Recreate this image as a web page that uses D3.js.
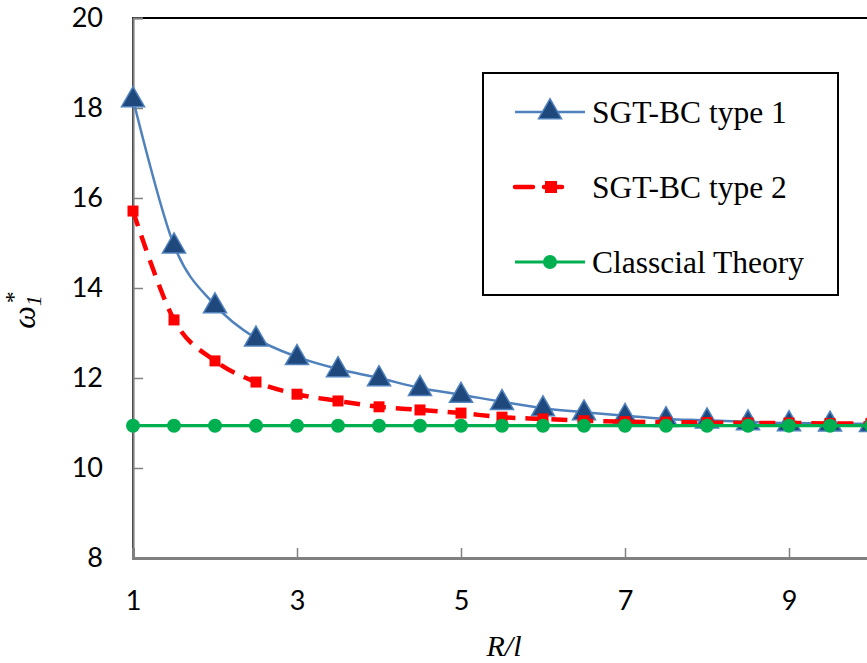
<!DOCTYPE html>
<html>
<head>
<meta charset="utf-8">
<script src="https://cdn.jsdelivr.net/npm/d3@7"></script>
<style>
  html, body { margin: 0; padding: 0; background: #fff; overflow: hidden; }
  svg { display: block; }
</style>
</head>
<body>
<svg id="chart" width="867" height="663"></svg>
<script>
// ---- data ----
const xValues = [1, 1.5, 2, 2.5, 3, 3.5, 4, 4.5, 5, 5.5, 6, 6.5, 7, 7.5, 8, 8.5, 9, 9.5, 10];
const sgtType1 = [18.2, 14.95, 13.62, 12.88, 12.47, 12.2, 12.0, 11.78, 11.63, 11.47, 11.33, 11.24, 11.16, 11.09, 11.06, 11.02, 11.0, 10.99, 10.98];
const sgtType2 = [15.71, 13.29, 12.38, 11.91, 11.64, 11.49, 11.36, 11.29, 11.22, 11.13, 11.09, 11.05, 11.03, 11.02, 11.01, 11.0, 11.0, 10.99, 10.99];
const classical = [10.94, 10.94, 10.94, 10.94, 10.94, 10.94, 10.94, 10.94, 10.94, 10.94, 10.94, 10.94, 10.94, 10.94, 10.94, 10.94, 10.94, 10.94, 10.94];
const xTicks = [1, 3, 5, 7, 9];
const yTicks = [8, 10, 12, 14, 16, 18, 20];
const seriesNames = ["SGT-BC type 1", "SGT-BC type 2", "Classcial Theory"];

(function () {
// ---- layout ----
const svg = d3.select("#chart");
const pLeft = 133, pRight = 871, pTop = 18, pBottom = 558;
const x = d3.scaleLinear().domain([1, 10]).range([pLeft, pRight]);
const y = d3.scaleLinear().domain([8, 20]).range([pBottom, pTop]);

const tickFont = "Lato, 'Open Sans', sans-serif";
const serif = "'Liberation Serif', 'Times New Roman', serif";

// plot border (black)
svg.append("rect").attr("x", pLeft).attr("y", pTop)
  .attr("width", pRight - pLeft).attr("height", pBottom - pTop)
  .attr("fill", "none").attr("stroke", "#000").attr("stroke-width", 2);

// y axis
const yAxis = d3.axisLeft(y).tickValues(yTicks).tickSize(-10).tickPadding(30).tickFormat(d3.format("d"));
const gy = svg.append("g").attr("transform", `translate(${pLeft},0)`).call(yAxis);
gy.select(".domain").attr("stroke", "#808080").attr("stroke-width", 2.2);
gy.selectAll(".tick line").attr("stroke", "#808080").attr("stroke-width", 1.5);
gy.selectAll(".tick text").attr("font-family", tickFont).attr("font-size", 27).attr("fill", "#000");

// x axis
const xAxis = d3.axisBottom(x).tickValues(xTicks).tickSize(-10).tickPadding(33).tickFormat(d3.format("d"));
const gx = svg.append("g").attr("transform", `translate(0,${pBottom})`).call(xAxis);
gx.select(".domain").attr("stroke", "#808080").attr("stroke-width", 3);
gx.selectAll(".tick line").attr("stroke", "#808080").attr("stroke-width", 1.5);
gx.selectAll(".tick text").attr("font-family", tickFont).attr("font-size", 27).attr("fill", "#000");

// axis titles
svg.append("text").attr("x", 504).attr("y", 656).attr("text-anchor", "middle")
  .attr("font-family", serif).attr("font-style", "italic").attr("font-size", 30).text("R/l");

const yt = svg.append("text").attr("transform", "translate(35,310) rotate(-90)")
  .attr("text-anchor", "middle").attr("font-family", serif).attr("font-style", "italic");
yt.append("tspan").attr("font-size", 32).text("ω");
yt.append("tspan").attr("font-size", 22).attr("dy", 6).text("1");
yt.append("tspan").attr("font-size", 24).attr("dx", -8).attr("dy", -20).attr("font-style", "normal").text("*");

// ---- series ----
const line = d3.line().x((d, i) => x(xValues[i])).y(d => y(d)).curve(d3.curveCatmullRom.alpha(0));
const blue = "#4F81BD", navy = "#1F497D", red = "#FF0000", green = "#00B050";
const tri = d3.symbol().type(d3.symbolTriangle).size(230);

const plot = svg.append("g");

// series 1
plot.append("path").datum(sgtType1).attr("d", line).attr("fill", "none")
  .attr("stroke", blue).attr("stroke-width", 2.5);
plot.selectAll(".tri").data(sgtType1).join("path")
  .attr("transform", (d, i) => `translate(${x(xValues[i])},${y(d) + 1})`)
  .attr("d", tri).attr("fill", navy).attr("stroke", blue).attr("stroke-width", 1.5);

// series 2
plot.append("path").datum(sgtType2).attr("d", line).attr("fill", "none")
  .attr("stroke", red).attr("stroke-width", 4.5).attr("stroke-dasharray", "16,10");
plot.selectAll(".sq").data(sgtType2).join("rect")
  .attr("x", (d, i) => x(xValues[i]) - 5.5).attr("y", d => y(d) - 5.5)
  .attr("width", 11).attr("height", 11).attr("fill", red);

// series 3
plot.append("path").datum(classical).attr("d", line).attr("fill", "none")
  .attr("stroke", green).attr("stroke-width", 3.2);
plot.selectAll(".ci").data(classical).join("circle")
  .attr("cx", (d, i) => x(xValues[i])).attr("cy", d => y(d)).attr("r", 7).attr("fill", green);

// ---- legend ----
const lg = svg.append("g");
lg.append("rect").attr("x", 483).attr("y", 73).attr("width", 355).attr("height", 222)
  .attr("fill", "#fff").attr("stroke", "#000").attr("stroke-width", 2);
const rows = [112, 187, 262];
lg.append("line").attr("x1", 515).attr("x2", 585).attr("y1", rows[0]).attr("y2", rows[0])
  .attr("stroke", blue).attr("stroke-width", 2.5);
lg.append("path").attr("transform", `translate(550,${rows[0]})`).attr("d", tri)
  .attr("fill", navy).attr("stroke", blue).attr("stroke-width", 1.5);
lg.append("line").attr("x1", 515).attr("x2", 569).attr("y1", rows[1]).attr("y2", rows[1])
  .attr("stroke", red).attr("stroke-width", 4.5).attr("stroke-dasharray", "18,11").attr("stroke-linecap", "round");
lg.append("rect").attr("x", 545).attr("y", rows[1] - 6).attr("width", 12).attr("height", 12).attr("fill", red);
lg.append("line").attr("x1", 515).attr("x2", 585).attr("y1", rows[2]).attr("y2", rows[2])
  .attr("stroke", green).attr("stroke-width", 3.2);
lg.append("circle").attr("cx", 550).attr("cy", rows[2]).attr("r", 7).attr("fill", green);

lg.selectAll(".lt").data(seriesNames).join("text")
  .attr("x", 592).attr("y", (d, i) => rows[i] + 11)
  .attr("font-family", serif).attr("font-size", 31.5).attr("fill", "#000").text(d => d);
})();
</script>
</body>
</html>
